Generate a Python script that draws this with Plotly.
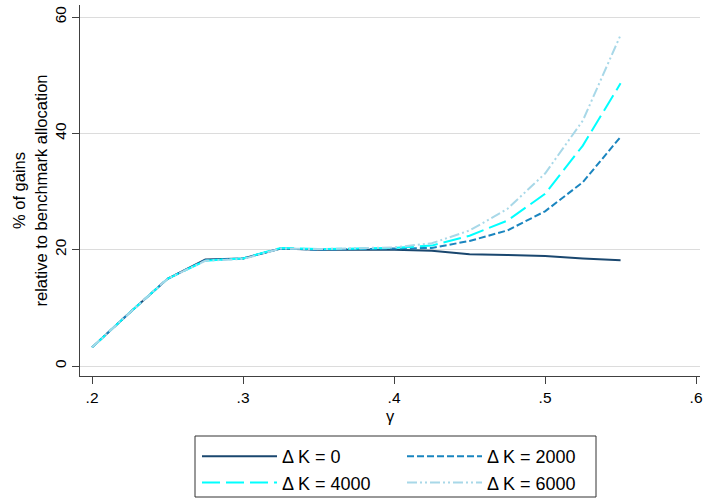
import plotly.graph_objects as go

gamma = [0.2, 0.225, 0.25, 0.275, 0.3, 0.325, 0.35, 0.375, 0.4, 0.425, 0.45, 0.475, 0.5, 0.525, 0.55]
dk0 = [3.2, 9.2, 15.0, 18.3, 18.5, 20.2, 20.0, 20.0, 20.0, 19.8, 19.2, 19.1, 18.9, 18.5, 18.2]
dk2000 = [3.2, 9.2, 15.0, 18.2, 18.5, 20.2, 20.0, 20.1, 20.1, 20.3, 21.5, 23.3, 26.6, 31.6, 39.4]
dk4000 = [3.2, 9.2, 15.0, 18.1, 18.5, 20.3, 20.1, 20.2, 20.3, 20.7, 22.4, 25.0, 29.6, 37.9, 48.6]
dk6000 = [3.2, 9.2, 15.0, 18.1, 18.4, 20.2, 20.1, 20.2, 20.4, 21.1, 23.3, 27.0, 33.1, 42.2, 56.9]

names = ["Δ K = 0", "Δ K = 2000", "Δ K = 4000", "Δ K = 6000"]
series = [dk0, dk2000, dk4000, dk6000]
colors = ["#1a476f", "#1a85bf", "#00ffff", "#a8d8e8"]
dashes = ["solid", "7px,3px", "18px,6px", "10px,3px,2px,3px,2px,3px"]
legends = ["legend", "legend2", "legend", "legend2"]

xticks = [0.2, 0.3, 0.4, 0.5, 0.6]
xticklabels = [".2", ".3", ".4", ".5", ".6"]
yticks = [0, 20, 40, 60]

fig = go.Figure()
for nm, ys, c, d, lg in zip(names, series, colors, dashes, legends):
    fig.add_trace(go.Scatter(x=gamma, y=ys, mode="lines", name=nm,
                             line=dict(color=c, width=2, dash=d), legend=lg))

fam = "Liberation Sans, Arial, sans-serif"
font = dict(family=fam, size=15.5, color="#000000")
title_font = dict(family=fam, size=16.5, color="#000000")
legend_font = dict(family=fam, size=18, color="#000000")
L, R, T, B = 80, 4, 5, 124
W, H = 704, 500
pw, ph = W - L - R, H - T - B

def px2paper_x(px):
    return (px - L) / pw

def px2paper_y(py):
    return (H - B - py) / ph

legend_common = dict(bgcolor="rgba(0,0,0,0)", borderwidth=0, font=legend_font,
                     itemwidth=75, tracegroupgap=0, orientation="v",
                     xanchor="left", yanchor="top", itemclick=False)

fig.update_layout(
    width=W, height=H,
    margin=dict(l=L, r=R, t=T, b=B, autoexpand=False),
    plot_bgcolor="white", paper_bgcolor="white",
    font=font,
    xaxis=dict(range=[0.192, 0.6026], tickvals=xticks, ticktext=xticklabels,
               showgrid=False, zeroline=False, showline=True, linecolor="#404040",
               linewidth=1, ticks="outside", ticklen=7, tickcolor="#404040",
               tickfont=font,
               title=dict(text="γ", font=title_font, standoff=5)),
    yaxis=dict(range=[-1.72, 62.07], tickvals=yticks, tickangle=-90,
               showgrid=True, gridcolor="#dcdcdc", gridwidth=1, zeroline=False,
               showline=True, linecolor="#404040", linewidth=1, ticks="outside",
               ticklen=7, tickcolor="#404040", tickfont=font,
               title=dict(text="% of gains<br>relative to benchmark allocation", font=title_font, standoff=0)),
    legend=dict(x=px2paper_x(197), y=px2paper_y(438), **legend_common),
    legend2=dict(x=px2paper_x(402), y=px2paper_y(438), **legend_common),
    showlegend=True,
)

fig.add_shape(type="rect", xref="paper", yref="paper",
              x0=px2paper_x(195), x1=px2paper_x(596),
              y0=px2paper_y(497), y1=px2paper_y(436),
              line=dict(color="#333333", width=1), fillcolor="rgba(0,0,0,0)")

fig.write_html("out.html")
